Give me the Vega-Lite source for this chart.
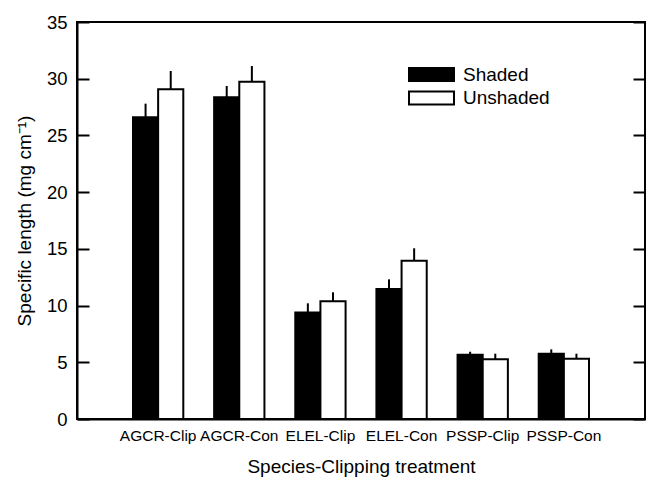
{
  "$schema": "https://vega.github.io/schema/vega-lite/v6.json",
  "autosize": "none",
  "width": 568,
  "height": 397,
  "padding": {"left": 77, "top": 22, "right": 1, "bottom": 58},
  "config": {
    "font": "Liberation Sans",
    "view": {"stroke": "black", "strokeWidth": 2},
    "axis": {"domainColor": "black", "domainWidth": 2, "tickColor": "black", "tickWidth": 2, "labelColor": "black", "titleColor": "black", "grid": false, "titleFontWeight": "normal", "labelFont": "Liberation Sans", "titleFont": "Liberation Sans"}
  },
  "data": {
    "values": [
      {"treatment": "AGCR-Clip", "shade": "Shaded", "value": 26.6, "upper": 27.8},
      {"treatment": "AGCR-Clip", "shade": "Unshaded", "value": 29.07, "upper": 30.68},
      {"treatment": "AGCR-Con", "shade": "Shaded", "value": 28.36, "upper": 29.36},
      {"treatment": "AGCR-Con", "shade": "Unshaded", "value": 29.74, "upper": 31.12},
      {"treatment": "ELEL-Clip", "shade": "Shaded", "value": 9.4, "upper": 10.2},
      {"treatment": "ELEL-Clip", "shade": "Unshaded", "value": 10.37, "upper": 11.17},
      {"treatment": "ELEL-Con", "shade": "Shaded", "value": 11.46, "upper": 12.31},
      {"treatment": "ELEL-Con", "shade": "Unshaded", "value": 13.96, "upper": 15.05},
      {"treatment": "PSSP-Clip", "shade": "Shaded", "value": 5.67, "upper": 5.93},
      {"treatment": "PSSP-Clip", "shade": "Unshaded", "value": 5.26, "upper": 5.76},
      {"treatment": "PSSP-Con", "shade": "Shaded", "value": 5.76, "upper": 6.14},
      {"treatment": "PSSP-Con", "shade": "Unshaded", "value": 5.32, "upper": 5.76}
    ]
  },
  "encoding": {
    "x": {
      "field": "treatment", "type": "nominal", "sort": null,
      "scale": {"paddingInner": 0.38, "paddingOuter": 0.69},
      "axis": {"title": "Species-Clipping treatment", "labelAngle": 0, "ticks": false, "labelFontSize": 15.5, "labelPadding": 9, "titleFontSize": 19, "titlePadding": 14}
    },
    "xOffset": {"field": "shade", "type": "nominal", "scale": {"paddingInner": 0, "paddingOuter": 0}}
  },
  "resolve": {"axis": {"y": "independent"}},
  "layer": [
    {
      "mark": {"type": "rule", "strokeWidth": 2, "color": "black"},
      "encoding": {
        "y": {"field": "upper", "type": "quantitative", "axis": null},
        "y2": {"field": "value"}
      }
    },
    {
      "mark": {"type": "bar", "stroke": "black", "strokeWidth": 2},
      "encoding": {
        "y": {
          "field": "value", "type": "quantitative",
          "scale": {"domain": [0, 35], "nice": false},
          "axis": {"orient": "left", "title": "Specific length (mg cm⁻¹)", "values": [0, 5, 10, 15, 20, 25, 30, 35], "tickSize": -12, "labelFontSize": 18.5, "labelPadding": 22, "titleFontSize": 19, "titlePadding": 12}
        },
        "fill": {
          "field": "shade", "type": "nominal",
          "scale": {"domain": ["Shaded", "Unshaded"], "range": ["black", "white"]},
          "legend": {
            "title": null, "orient": "none", "legendX": 345, "legendY": 43,
            "symbolType": "M-3.46,-1H3.46V1H-3.46Z", "symbolSize": 169,
            "symbolStrokeColor": "black", "symbolStrokeWidth": 2,
            "labelFontSize": 19, "labelColor": "black", "labelFont": "Liberation Sans",
            "rowPadding": 2.5, "labelOffset": 22, "padding": 0
          }
        }
      }
    },
    {
      "mark": {"type": "rule", "opacity": 0},
      "encoding": {
        "y": {
          "field": "value", "type": "quantitative",
          "axis": {"orient": "right", "title": null, "labels": false, "domain": false, "values": [0, 5, 10, 15, 20, 25, 30, 35], "tickSize": -12}
        }
      }
    }
  ]
}
